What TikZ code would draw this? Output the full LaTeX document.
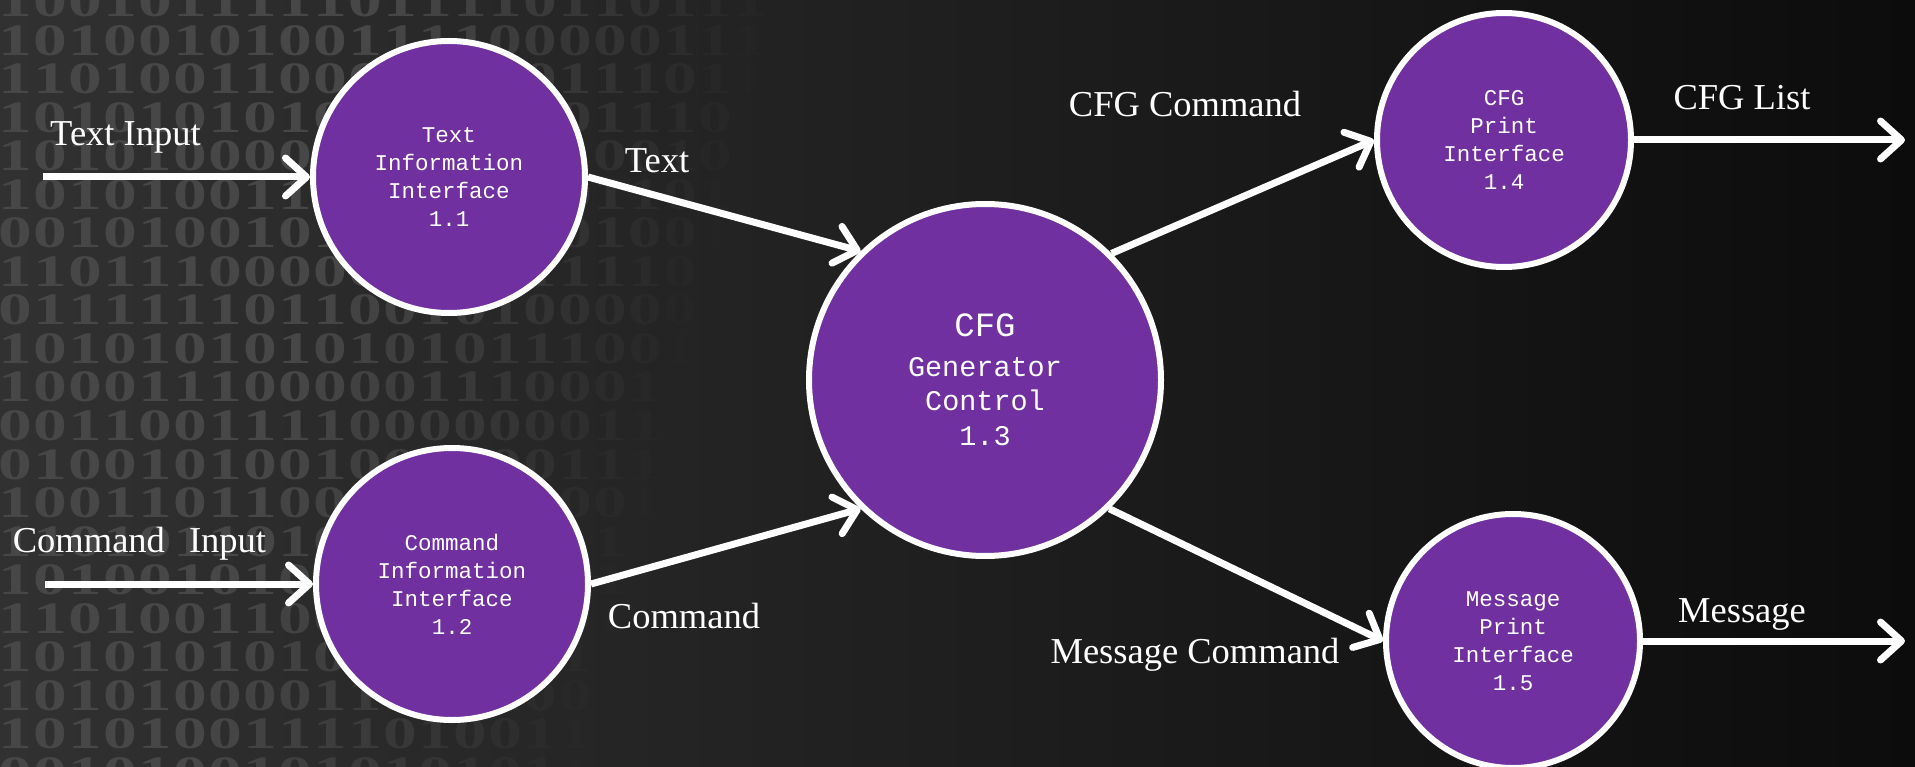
\documentclass[tikz,border=0pt]{standalone}
\usepackage{fontspec}
\setmainfont{Liberation Serif}
\newfontfamily\monofont{Liberation Mono}
\usetikzlibrary{arrows.meta}
\definecolor{procpurple}{HTML}{7030A0}
\definecolor{bgL}{HTML}{313131}
\definecolor{bgM}{HTML}{1E1E1E}
\definecolor{bgR}{HTML}{0C0C0C}
\definecolor{digitgray}{HTML}{474747}
\begin{document}
\begin{tikzpicture}[x=1pt,y=-1pt,
  proc/.style={circle, draw=white, line width=6pt, fill=procpurple, text=white,
    align=center, inner sep=0pt, font=\monofont\fontsize{22.5}{28}\selectfont},
  bigproc/.style={proc, font=\monofont\fontsize{28.5}{34.5}\selectfont},
  flow/.style={draw=white, line width=7pt, -{Straight Barb[length=21pt,width=38pt,round]}},
  lbl/.style={text=white, font=\fontsize{36.5}{40}\selectfont, anchor=base, inner sep=0pt},
  digit/.style={text=digitgray, font=\bfseries\fontsize{45}{45}\selectfont, anchor=base, inner sep=0pt}]
% background
\useasboundingbox (0,0) rectangle (1915,767);
\shade[left color=bgL, middle color=bgM, right color=bgR] (0,0) rectangle (1915,767);
\begin{scope}
\clip (0,0) rectangle (1915,767);
\foreach \rowdigits [count=\r from 0] in {
 {1,0,0,1,0,1,1,1,1,1,0,1,1,1,1,0,1,1,0,1,1,1},
 {1,0,1,0,0,1,0,1,0,0,1,1,1,1,0,0,0,0,0,1,1,1},
 {1,1,0,1,0,0,1,1,0,0,0,1,1,1,1,0,1,1,1,0,1,1},
 {1,0,1,0,1,0,1,0,1,0,1,0,1,1,1,1,0,1,1,1,0,1},
 {1,0,1,0,1,0,0,0,0,1,0,0,1,1,0,0,1,0,0,1,0,0},
 {1,0,1,0,1,0,0,1,1,1,0,1,0,1,1,1,0,1,1,0,1,0},
 {0,0,1,0,1,0,0,1,0,1,0,1,1,0,0,1,0,1,0,0,1,0},
 {1,1,0,1,1,1,0,0,0,0,0,1,1,1,0,1,1,1,1,0,0,1},
 {0,1,1,1,1,1,1,0,1,1,0,0,1,0,1,0,0,0,0,0,1,1},
 {1,0,1,0,1,0,1,0,1,0,1,0,1,0,1,1,1,0,0,1,0,1},
 {1,0,0,0,1,1,1,0,0,0,0,0,1,1,1,0,0,0,1,0,1,1},
 {0,0,1,1,0,0,1,1,1,1,0,0,0,0,0,0,0,1,1,1,0,0},
 {0,1,0,0,1,0,1,0,0,1,0,0,1,0,0,0,1,1,1,0,1,1},
 {1,0,0,1,1,0,1,1,0,0,0,1,1,0,1,1,0,0,1,0,1,0},
 {1,1,0,1,0,1,1,0,1,0,1,1,0,1,0,0,1,1,0,1,0,0},
 {1,0,1,0,0,1,0,1,0,1,0,1,1,0,0,1,0,1,1,0,1,0},
 {1,1,0,1,0,0,1,1,0,0,0,1,1,0,1,0,0,1,0,1,1,0},
 {1,0,1,0,1,0,1,0,1,0,1,1,0,0,1,0,1,0,0,1,0,1},
 {1,0,1,0,1,0,0,0,0,1,1,1,1,0,1,0,0,1,1,0,1,0},
 {1,0,1,0,1,0,0,1,1,1,1,0,1,0,0,1,1,0,1,0,1,1},
 {0,0,1,0,1,0,0,1,0,1,0,1,0,1,0,1,1,0,0,1,0,1}}
{
  \foreach \d [count=\i from 0] in \rowdigits {
    \pgfmathsetmacro\xx{15+35*\i}
    \pgfmathsetmacro\yy{17+38.5*\r}
    \pgfmathsetmacro\xe{790-10*\r}
    \pgfmathsetmacro\op{max(0,min(1,(\xe-\xx)/400))}
    \node[digit, text opacity=\op] (d-\r-\i) at (\xx,\yy) {\scalebox{1.5}[1]{\d}};
  }
}
\end{scope}

% processes
\node[proc, minimum size=272pt] (t11) at (449,177) {Text\\Information\\Interface\\1.1};
\node[proc, minimum size=272pt] (c12) at (452,584) {Command\\Information\\Interface\\1.2};
\node[bigproc, minimum size=352pt] (c13) at (985,380) {{\fontsize{34}{34}\selectfont CFG}\\[5pt]Generator\\Control\\1.3};
\node[proc, minimum size=254pt] (p14) at (1504,140) {CFG\\Print\\Interface\\1.4};
\node[proc, minimum size=254pt] (m15) at (1513,641) {Message\\Print\\Interface\\1.5};

% free ends
\coordinate (inT) at (43,177);
\coordinate (inC) at (45,584);
\coordinate (outL) at (1905,140);
\coordinate (outM) at (1905,641);

% flows
\draw[flow] (inT) -- (t11.west);
\draw[flow] (inC) -- (c12.west);
\draw[flow] (t11.east) -- (c13.134);
\draw[flow] (c12.east) -- (c13.226);
\draw[flow] (c13.45) -- (p14.west);
\draw[flow] (c13.-46) -- (m15.west);
\draw[flow] (p14.east) -- (outL);
\draw[flow] (m15.east) -- (outM);

% labels
\node[lbl] (lTextIn) at (125.5,146) {Text Input};
\node[lbl] (lCmdIn) at (139.5,552) {Command\hspace{15pt} Input};
\node[lbl] (lText) at (657,173) {Text};
\node[lbl] (lCmd) at (684,628) {Command};
\node[lbl] (lCfgCmd) at (1185,117) {CFG Command};
\node[lbl] (lMsgCmd) at (1195,663) {Message Command};
\node[lbl] (lCfgList) at (1742,110) {CFG List};
\node[lbl] (lMsg) at (1742,622) {Message};
\end{tikzpicture}
\end{document}
